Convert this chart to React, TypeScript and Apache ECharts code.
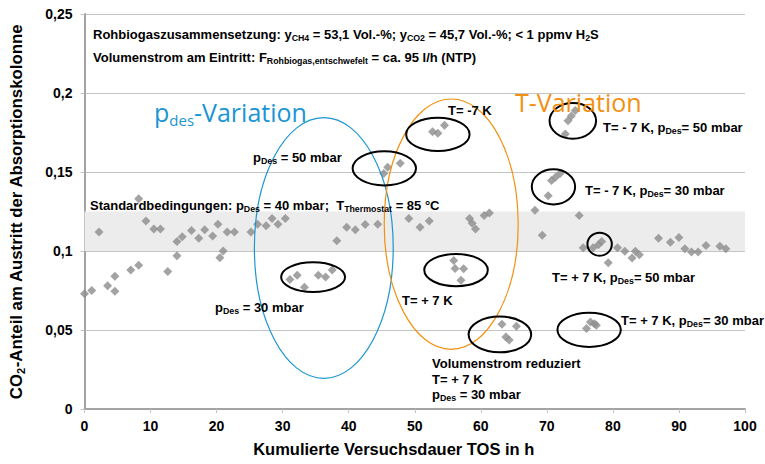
import React, { useEffect, useRef } from 'react';
import * as echarts from 'echarts';

// Kumulierte Versuchsdauer TOS in h
const tosHours = [
  0.0, 1.1, 2.2, 3.5, 4.6, 4.6, 7.0, 8.2, 8.2, 9.3,
  10.5, 11.5, 12.6, 14.0, 14.0, 14.8, 16.2, 17.3, 18.2, 19.4,
  20.2, 20.5, 21.0, 21.6, 22.7, 25.2, 26.2, 27.5, 28.4, 29.3,
  30.4, 31.1, 32.2, 33.3, 35.4, 36.5, 37.5, 38.2, 39.7, 41.0,
  42.5, 44.4, 45.3, 45.9, 47.8, 49.1, 50.8, 52.2, 52.7, 53.5,
  54.5, 55.9, 56.1, 57.4, 57.0, 58.3, 58.7, 59.2, 60.5, 61.3,
  63.2, 65.4, 63.8, 64.3, 68.2, 69.3, 70.2, 70.7, 71.3, 72.0,
  72.8, 73.2, 73.7, 74.3, 74.9, 75.5, 76.0, 76.6, 77.2, 77.5,
  77.0, 77.8, 78.3, 79.3, 80.7, 81.8, 82.9, 83.4, 84.0, 86.9,
  88.7, 90.0, 90.9, 91.9, 92.9, 94.1, 96.2, 97.1,
];
// CO2-Anteil am Austritt der Absorptionskolonne
const co2Share = [
  0.073, 0.075, 0.112, 0.078, 0.0745, 0.084, 0.088, 0.091, 0.133, 0.119,
  0.114, 0.114, 0.087, 0.097, 0.106, 0.109, 0.113, 0.108, 0.1135, 0.1095,
  0.117, 0.0958, 0.1, 0.112, 0.112, 0.112, 0.117, 0.116, 0.1205, 0.117,
  0.1205, 0.082, 0.0846, 0.077, 0.0846, 0.0835, 0.088, 0.1065, 0.115, 0.1135,
  0.1167, 0.117, 0.149, 0.153, 0.1556, 0.1206, 0.115, 0.119, 0.1755, 0.1745,
  0.1796, 0.094, 0.089, 0.0888, 0.0815, 0.1206, 0.1175, 0.114, 0.1225, 0.124,
  0.0536, 0.0523, 0.0456, 0.0436, 0.1258, 0.11, 0.135, 0.1446, 0.1467, 0.149,
  0.174, 0.1825, 0.1855, 0.189, 0.1225, 0.102, 0.051, 0.055, 0.054, 0.053,
  0.102, 0.104, 0.106, 0.0925, 0.102, 0.0998, 0.0956, 0.0998, 0.0977, 0.108,
  0.1056, 0.1085, 0.1015, 0.0994, 0.0994, 0.1035, 0.103, 0.1015,
];
const xTickLabels = ['0', '10', '20', '30', '40', '50', '60', '70', '80', '90', '100'];
const yTickLabels = ['0', '0,05', '0,1', '0,15', '0,2', '0,25'];
// Standardbedingungen band (CO2 share range)
const standardBand = [0.1, 0.125];

// Annotation ellipses around groups of points, in data units: [cx, cy, rx, ry]
const ellipseBlue = [36.23, 0.1019, 10.51, 0.0825];
const ellipseOrange = [55.52, 0.117, 10.14, 0.0792];
const ellipsesBlack = [
  [45.39, 0.1523, 4.8, 0.0108],
  [53.5, 0.1738, 4.8, 0.0105],
  [34.61, 0.0835, 4.84, 0.0094],
  [56.25, 0.0879, 4.81, 0.0102],
  [62.89, 0.0472, 4.74, 0.0113],
  [76.4, 0.0501, 4.8, 0.0108],
  [73.93, 0.1824, 3.52, 0.0113],
  [71.0, 0.1406, 3.28, 0.0111],
  [77.99, 0.1043, 1.85, 0.0073],
];

const FONT = '"Liberation Sans", Arial, sans-serif';
const SEGOE = '"Open Sans", "Noto Sans", sans-serif';
const BLUE = '#1b95d3';
const ORANGE = '#f29111';

const richText = {
  n: { fontFamily: FONT, fontWeight: 'bold', fontSize: 13, lineHeight: 17, fill: '#000', verticalAlign: 'middle' },
  s: { fontFamily: FONT, fontWeight: 'bold', fontSize: 8.8, lineHeight: 10, fill: '#000', verticalAlign: 'bottom' },
  b: { fontFamily: SEGOE, fontSize: 25, lineHeight: 30, fill: BLUE, verticalAlign: 'middle' },
  bs: { fontFamily: SEGOE, fontSize: 15, lineHeight: 16, fill: BLUE, verticalAlign: 'bottom' },
  o: { fontFamily: SEGOE, fontSize: 25, lineHeight: 30, fill: ORANGE, verticalAlign: 'middle' },
};

// [left px, middle px, rich text]
const annotations: [number, number, string][] = [
  [93, 34, '{n|Rohbiogaszusammensetzung: y}{s|CH4}{n| = 53,1 Vol.-%; y}{s|CO2}{n| = 45,7 Vol.-%; < 1 ppmv H}{s|2}{n|S}'],
  [93, 57, '{n|Volumenstrom am Eintritt: F}{s|Rohbiogas,entschwefelt}{n| = ca. 95 l/h (NTP)}'],
  [154, 112, '{b|p}{bs|des}{b|-Variation}'],
  [515, 102, '{o|T-Variation}'],
  [253, 157, '{n|p}{s|Des}{n| = 50 mbar}'],
  [448, 110, '{n|T= -7 K}'],
  [603, 127, '{n|T= - 7 K, p}{s|Des}{n|= 50 mbar}'],
  [585, 190, '{n|T= - 7 K, p}{s|Des}{n|= 30 mbar}'],
  [90, 205, '{n|Standardbedingungen: p}{s|Des}{n| = 40 mbar;  T}{s|Thermostat}{n| = 85 °C}'],
  [215, 307, '{n|p}{s|Des}{n| = 30 mbar}'],
  [402, 300, '{n|T= + 7 K}'],
  [552, 277, '{n|T= + 7 K, p}{s|Des}{n|= 50 mbar}'],
  [621, 320, '{n|T= + 7 K, p}{s|Des}{n|= 30 mbar}'],
  [432, 363, '{n|Volumenstrom reduziert}'],
  [432, 379, '{n|T= + 7 K}'],
  [432, 394, '{n|p}{s|Des}{n| = 30 mbar}'],
];

export default function App() {
  const ref = useRef<HTMLDivElement>(null);

  useEffect(() => {
    document.body.style.margin = '0';
    const chart = echarts.init(ref.current!, null, { renderer: 'svg' });
    const light = '#c4c4c4';
    const frame = '#a3a3a3';
    const option: any = {
      animation: false,
      backgroundColor: '#fff',
      grid: { left: 84, right: 20, top: 14, bottom: 50.7, containLabel: false },
      xAxis: [
        {
          type: 'value', min: 0, max: 100, interval: 10,
          axisLine: { lineStyle: { color: light, width: 1 } },
          axisTick: { show: true, length: 4, inside: false, lineStyle: { color: light } },
          splitLine: { show: false },
          axisLabel: {
            margin: 10, color: '#000', fontFamily: FONT, fontWeight: 'bold', fontSize: 14,
            formatter: (v: number) => xTickLabels[Math.round(v / 10)] ?? '',
          },
          name: 'Kumulierte Versuchsdauer TOS in h',
          nameLocation: 'middle', nameGap: 30,
          nameTextStyle: { color: '#000', fontFamily: FONT, fontWeight: 'bold', fontSize: 16.5, lineHeight: 20, padding: [0, 42, 0, 0] },
        },
        {
          type: 'value', min: 0, max: 100, position: 'top',
          axisLine: { show: true, lineStyle: { color: frame, width: 2 } },
          axisTick: { show: false }, axisLabel: { show: false }, splitLine: { show: false },
        },
      ],
      yAxis: [
        {
          type: 'value', min: 0, max: 0.25, interval: 0.05,
          axisLine: { show: true, lineStyle: { color: light, width: 1 } },
          axisTick: { show: true, length: 4, lineStyle: { color: light } },
          splitLine: { show: true, lineStyle: { color: light, width: 1 } },
          axisLabel: {
            margin: 12, color: '#000', fontFamily: FONT, fontWeight: 'bold', fontSize: 14,
            formatter: (v: number) => yTickLabels[Math.round(v / 0.05)] ?? '',
          },
          name: '{a|CO}{s|2}{a|-Anteil am Austritt der Absorptionskolonne}',
          nameLocation: 'middle', nameGap: 58,
          nameTextStyle: {
            rich: {
              a: { color: '#000', fontFamily: FONT, fontWeight: 'bold', fontSize: 16.8, lineHeight: 20, verticalAlign: 'middle' },
              s: { color: '#000', fontFamily: FONT, fontWeight: 'bold', fontSize: 11, lineHeight: 12, verticalAlign: 'bottom' },
            },
          },
        },
        {
          type: 'value', min: 0, max: 0.25, position: 'right',
          axisLine: { show: true, lineStyle: { color: frame, width: 2 } },
          axisTick: { show: false }, axisLabel: { show: false }, splitLine: { show: false },
        },
      ],
      series: [
        {
          type: 'scatter',
          xAxisIndex: 0, yAxisIndex: 0,
          symbol: 'diamond', symbolSize: 9,
          itemStyle: { color: '#8c8c8c' },
          data: tosHours.map((x, i) => [x, co2Share[i]]),
          z: 3,
          markArea: {
            silent: true,
            itemStyle: { color: '#ececec' },
            data: [[{ yAxis: standardBand[0] }, { yAxis: standardBand[1] }]],
          },
        },
      ],
    };
    chart.setOption(option);

    const toEllipse = (e: number[], stroke: string, lineWidth: number) => {
      const c = chart.convertToPixel({ seriesIndex: 0 }, [e[0], e[1]]) as number[];
      const p = chart.convertToPixel({ seriesIndex: 0 }, [e[0] + e[2], e[1] + e[3]]) as number[];
      return {
        type: 'ellipse',
        shape: { cx: c[0], cy: c[1], rx: Math.abs(p[0] - c[0]), ry: Math.abs(p[1] - c[1]) },
        style: { fill: 'none', stroke, lineWidth },
        silent: true,
        z: 20,
      };
    };

    const graphics: any[] = [
      toEllipse(ellipseBlue, BLUE, 1.2),
      toEllipse(ellipseOrange, ORANGE, 1.2),
      ...ellipsesBlack.map((e) => toEllipse(e, '#000', 2)),
      ...annotations.map(([x, y, text]) => ({
        type: 'text',
        x, y,
        silent: true,
        z: 30,
        style: { text, rich: richText, align: 'left', verticalAlign: 'middle', fontFamily: FONT, fontSize: 13, fontWeight: 'bold', fill: '#000' },
      })),
    ];
    chart.setOption({ graphic: graphics });

    return () => chart.dispose();
  }, []);

  return <div ref={ref} style={{ position: 'fixed', left: 0, top: 0, width: 765, height: 464 }} />;
}
